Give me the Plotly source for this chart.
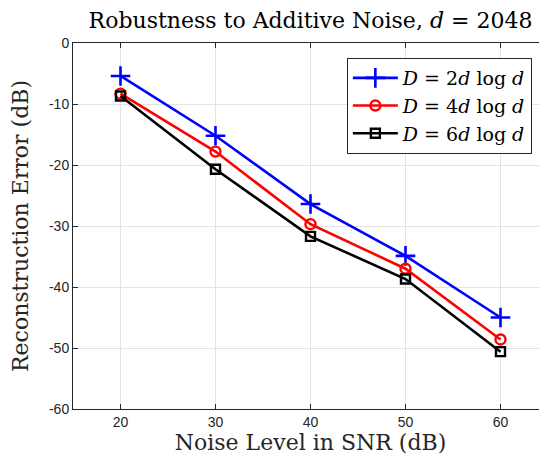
import plotly.graph_objects as go

snr = [20, 30, 40, 50, 60]
err_2d = [-5.4, -15.2, -26.4, -34.9, -45.0]
err_4d = [-8.3, -17.8, -29.7, -37.0, -48.6]
err_6d = [-8.7, -20.7, -31.7, -38.7, -50.6]
names = ["<i>D</i> = 2<i>d</i> log <i>d</i>",
         "<i>D</i> = 4<i>d</i> log <i>d</i>",
         "<i>D</i> = 6<i>d</i> log <i>d</i>"]
x_ticks = [20, 30, 40, 50, 60]
y_ticks = [0, -10, -20, -30, -40, -50, -60]
y_labels = ["0", "-10", "-20", "-30", "-40", "-50", "-60"]

serif = "DejaVu Serif, serif"
sans = "Liberation Sans, Arial, sans-serif"

fig = go.Figure()
fig.add_trace(go.Scatter(x=snr, y=err_2d, name=names[0], mode="lines+markers",
                         line=dict(color="#0000ff", width=2.6),
                         marker=dict(symbol="cross-thin-open", size=14,
                                     line=dict(color="#0000ff", width=2.6))))
fig.add_trace(go.Scatter(x=snr, y=err_4d, name=names[1], mode="lines+markers",
                         line=dict(color="#ff0000", width=2.6),
                         marker=dict(symbol="circle-open", size=10,
                                     line=dict(color="#ff0000", width=2.4))))
fig.add_trace(go.Scatter(x=snr, y=err_6d, name=names[2], mode="lines+markers",
                         line=dict(color="#000000", width=2.6),
                         marker=dict(symbol="square-open", size=9,
                                     line=dict(color="#000000", width=2.4))))

axis_common = dict(
    showline=True, linecolor="#262626", linewidth=1, mirror="ticks",
    ticks="inside", ticklen=5, tickcolor="#262626",
    showgrid=True, gridcolor="#e3e3e3", gridwidth=1, zeroline=False,
    tickfont=dict(family=sans, size=14, color="#262626"),
    automargin=False,
)

fig.update_layout(
    width=547, height=461,
    margin=dict(l=65, r=7, t=35, b=60),
    paper_bgcolor="white", plot_bgcolor="white",
    title=dict(text="Robustness to Additive Noise, <i>d</i> = 2048",
               font=dict(family=serif, size=22, color="#000000"),
               x=0.5, xref="paper", xanchor="center",
               y=1 - 12 / 461, yref="container", yanchor="middle"),
    xaxis=dict(range=[15, 65], tickvals=x_ticks,
               title=dict(text="Noise Level in SNR (dB)",
                          font=dict(family=serif, size=22, color="#262626"),
                          standoff=4),
               **axis_common),
    yaxis=dict(range=[-60, 0], tickvals=y_ticks, ticktext=y_labels,
               title=dict(text="Reconstruction Error (dB)",
                          font=dict(family=serif, size=22, color="#262626"),
                          standoff=14),
               **axis_common),
    legend=dict(x=0.966, y=0.959, xanchor="right", yanchor="top",
                bgcolor="white", bordercolor="#262626", borderwidth=1,
                font=dict(family=serif, size=19, color="#000000"),
                itemwidth=45, tracegroupgap=0),
    showlegend=True,
)

fig.write_html("out.html")
